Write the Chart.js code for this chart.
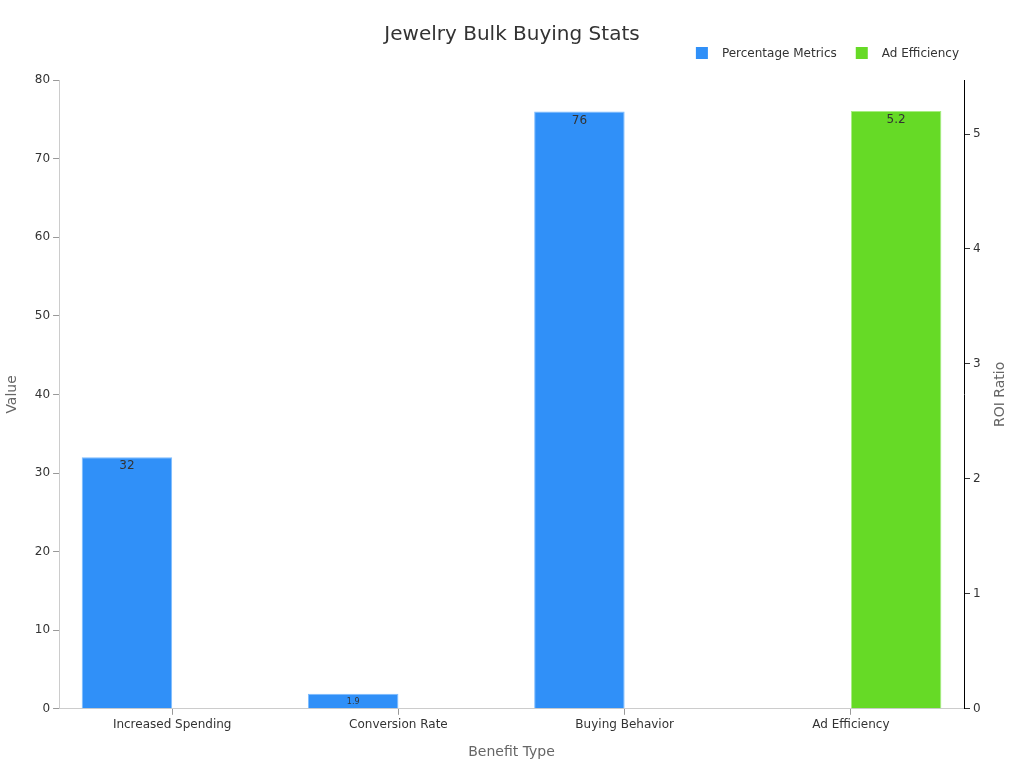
<!doctype html>
<html lang="en">
  <head>
    <meta charset="UTF-8" />
    <title>Jewelry Bulk Buying Stats</title>
    <style>
      html, body { margin: 0; padding: 0; background: #fff; }
      #wrap { width: 1024px; height: 768px; position: relative; }
    </style>
  </head>
  <body>
    <div id="wrap"><canvas id="chart"></canvas></div>
    <script src="https://cdn.jsdelivr.net/npm/chart.js@4.4.0/dist/chart.umd.min.js"></script>
    <script>
      const categories = ["Increased Spending", "Conversion Rate", "Buying Behavior", "Ad Efficiency"];
      const percentageMetrics = [32, 1.9, 76, null];
      const adEfficiency = [null, null, null, 5.2];
      const labelSizes = [12, 8, 12, 12];

      const FONT = "'DejaVu Sans', sans-serif";
      Chart.defaults.font.family = FONT;
      Chart.defaults.color = "#333";

      // values written inside the top of each bar
      const barLabels = {
        id: "barLabels",
        afterDatasetsDraw(chart) {
          const ctx = chart.ctx;
          chart.data.datasets.forEach((ds, di) => {
            chart.getDatasetMeta(di).data.forEach((bar, i) => {
              const v = ds.data[i];
              if (v == null) return;
              ctx.save();
              ctx.fillStyle = "#333";
              ctx.font = labelSizes[i] + "px " + FONT;
              ctx.textAlign = "center";
              ctx.textBaseline = "top";
              ctx.fillText(String(v), bar.x, bar.y + (labelSizes[i] < 10 ? 4 : 3));
              ctx.restore();
            });
          });
        },
      };

      // legend at the top right, plus the right axis title read bottom-up
      const extras = {
        id: "extras",
        afterDraw(chart) {
          const ctx = chart.ctx;
          ctx.save();
          ctx.font = "12px " + FONT;
          ctx.textBaseline = "middle";
          const items = chart.data.datasets.map((ds) => ({
            text: ds.label,
            color: ds.backgroundColor,
            w: 12 + 14 + ctx.measureText(ds.label).width,
          }));
          let x = 959 - items.reduce((s, it) => s + it.w, 0) - 19 * (items.length - 1);
          const y = 53;
          items.forEach((it) => {
            ctx.fillStyle = it.color;
            ctx.fillRect(x, y - 6, 12, 12);
            ctx.fillStyle = "#333";
            ctx.textAlign = "left";
            ctx.fillText(it.text, x + 26, y + 1);
            x += it.w + 19;
          });

          const a = chart.chartArea;
          ctx.translate(1000, (a.top + a.bottom) / 2);
          ctx.rotate(-Math.PI / 2);
          ctx.font = "14px " + FONT;
          ctx.fillStyle = "#666";
          ctx.textAlign = "center";
          ctx.fillText("ROI Ratio", 0, 0);
          ctx.restore();
        },
      };

      new Chart(document.getElementById("chart"), {
        type: "bar",
        data: {
          labels: categories,
          datasets: [
            {
              label: "Percentage Metrics",
              data: percentageMetrics,
              yAxisID: "y",
              backgroundColor: "#3090f8",
              borderColor: "#7cbcff",
              borderWidth: 1,
            },
            {
              label: "Ad Efficiency",
              data: adEfficiency,
              yAxisID: "y1",
              backgroundColor: "#66da26",
              borderColor: "#a6ee80",
              borderWidth: 1,
            },
          ],
        },
        options: {
          responsive: true,
          maintainAspectRatio: false,
          animation: false,
          categoryPercentage: 0.8,
          barPercentage: 1,
          layout: { padding: { left: 0, right: 0, top: 0, bottom: 3 } },
          plugins: {
            title: {
              display: true,
              text: "Jewelry Bulk Buying Stats",
              font: { size: 20, weight: "normal" },
              color: "#333",
              padding: { top: 23, bottom: 33 },
            },
            legend: { display: false },
            tooltip: { enabled: false },
          },
          scales: {
            x: {
              grid: { display: true, offset: false, drawOnChartArea: false, tickLength: 6, color: "#999" },
              border: { color: "#ccc" },
              ticks: { font: { size: 12 }, color: "#333", padding: 3 },
              title: {
                display: true,
                text: "Benefit Type",
                color: "#666",
                font: { size: 14 },
                padding: { top: 9, bottom: 4 },
              },
            },
            y: {
              position: "left",
              min: 0,
              max: 80,
              ticks: { stepSize: 10, font: { size: 12 }, color: "#333", padding: 3 },
              grid: { display: true, drawOnChartArea: false, tickLength: 6, color: "#999" },
              border: { color: "#ccc" },
              title: {
                display: true,
                text: "Value",
                color: "#666",
                font: { size: 14 },
                padding: { top: 4, bottom: 11 },
              },
            },
            y1: {
              position: "right",
              min: 0,
              max: 5.47,
              ticks: { stepSize: 1, font: { size: 12 }, color: "#333", padding: 3 },
              afterBuildTicks(axis) {
                axis.ticks = axis.ticks.filter((t) => Number.isInteger(t.value));
              },
              afterFit(axis) {
                axis.width = 60;
              },
              grid: { display: true, drawOnChartArea: false, tickLength: 6, color: "#333" },
              border: { color: "#000" },
            },
          },
        },
        plugins: [barLabels, extras],
      });
    </script>
  </body>
</html>
